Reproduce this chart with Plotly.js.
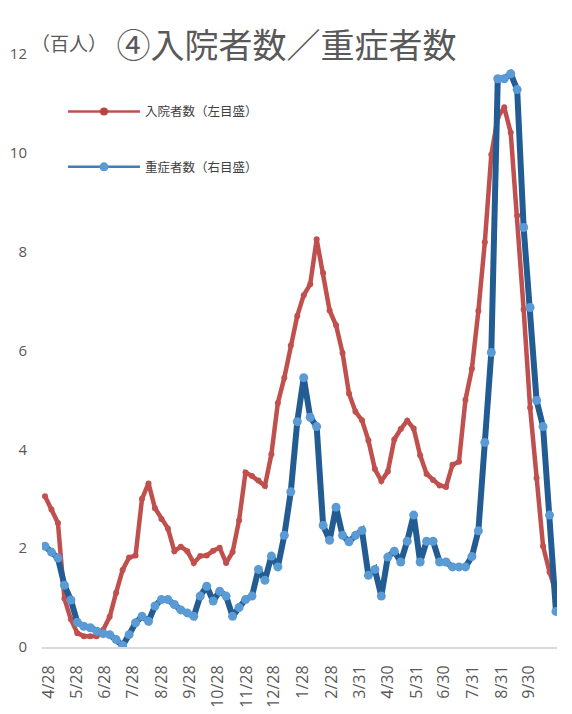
<!DOCTYPE html>
<html>
<head>
<meta charset="utf-8">
<script src="https://cdn.plot.ly/plotly-3.0.1.min.js"></script>
<style>
  html, body { margin: 0; padding: 0; background: #ffffff; }
  #chart { width: 572px; height: 714px; }
</style>
</head>
<body>
<div id="chart"></div>
<script>
// ---- data (weekly points, first week starting 2020-04-24) ----
const startDate = '2020-04-24';
const weekCount = 80;

// 入院者数 (百人, left axis)
const hospitalized = [
  3.05, 2.78, 2.51, 0.98, 0.56, 0.28, 0.22, 0.22, 0.22, 0.35,
  0.61, 1.10, 1.56, 1.81, 1.85, 3.00, 3.31, 2.81, 2.59, 2.40,
  1.94, 2.03, 1.94, 1.70, 1.84, 1.85, 1.95, 2.01, 1.70, 1.92,
  2.56, 3.53, 3.46, 3.37, 3.26, 3.90, 4.94, 5.45, 6.10, 6.70,
  7.12, 7.34, 8.25, 7.57, 6.81, 6.51, 5.95, 5.13, 4.76, 4.59,
  4.18, 3.60, 3.36, 3.55, 4.20, 4.41, 4.58, 4.42, 3.88, 3.50,
  3.38, 3.27, 3.24, 3.69, 3.75, 5.00, 5.63, 6.80, 8.19, 9.96,
  10.72, 10.92, 10.41, 8.73, 6.83, 4.84, 3.42, 2.04, 1.52, 1.10
];

// 重症者数 (right axis, drawn on the same visual scale)
const severe = [
  2.04, 1.92, 1.80, 1.25, 0.95, 0.50, 0.42, 0.39, 0.32, 0.27,
  0.25, 0.15, 0.03, 0.25, 0.49, 0.62, 0.52, 0.83, 0.96, 0.96,
  0.86, 0.75, 0.69, 0.62, 1.03, 1.23, 0.93, 1.13, 1.03, 0.62,
  0.80, 0.96, 1.03, 1.57, 1.35, 1.84, 1.62, 2.26, 3.14, 4.56,
  5.45, 4.65, 4.46, 2.46, 2.16, 2.83, 2.26, 2.13, 2.26, 2.36,
  1.45, 1.57, 1.03, 1.82, 1.94, 1.72, 2.14, 2.67, 1.72, 2.14,
  2.14, 1.72, 1.72, 1.62, 1.62, 1.62, 1.83, 2.35, 4.14, 5.96,
  11.50, 11.50, 11.60, 11.28, 8.49, 6.87, 4.99, 4.46, 2.67, 0.72
];

// x-axis tick labels
const tickDates = [
  '2020-04-28', '2020-05-28', '2020-06-28', '2020-07-28', '2020-08-28', '2020-09-28',
  '2020-10-28', '2020-11-28', '2020-12-28', '2021-01-28', '2021-02-28', '2021-03-31',
  '2021-04-30', '2021-05-31', '2021-06-30', '2021-07-31', '2021-08-31', '2021-09-30'
];
const tickLabels = [
  '4/28', '5/28', '6/28', '7/28', '8/28', '9/28', '10/28', '11/28', '12/28',
  '1/28', '2/28', '3/31', '4/30', '5/31', '6/30', '7/31', '8/31', '9/30'
];

const seriesNames = ['入院者数（左目盛）', '重症者数（右目盛）'];
const titleText = '④入院者数／重症者数';
const unitText = '（百人）';

// ---- build ----
const DAY = 86400000;
function iso(ms) { return new Date(ms).toISOString().slice(0, 10); }
const t0 = Date.parse(startDate + 'T00:00:00Z');
const dates = [];
for (let i = 0; i < weekCount; i++) dates.push(iso(t0 + i * 7 * DAY));
const tLast = t0 + (weekCount - 1) * 7 * DAY;
const xRange = [new Date(t0 - 3.25 * DAY).toISOString(), new Date(tLast + 1.1 * DAY).toISOString()];

const RED = '#C0504D';
const BLUE_LINE = '#225C92';
const BLUE_MARK = '#5B9BD5';
const TXT = '#595959';

const traces = [
  {
    x: dates, y: hospitalized, type: 'scatter', mode: 'lines+markers',
    line: { color: RED, width: 4.5 },
    marker: { color: RED, size: 6 },
    showlegend: false, yaxis: 'y', hoverinfo: 'skip'
  },
  {
    x: dates, y: severe, type: 'scatter', mode: 'lines+markers',
    line: { color: BLUE_LINE, width: 6 },
    marker: { color: BLUE_MARK, size: 9 },
    showlegend: false, yaxis: 'y2', hoverinfo: 'skip'
  },
  // legend entries (thin lines as in the reference legend)
  {
    x: [null], y: [null], type: 'scatter', mode: 'lines+markers', name: seriesNames[0],
    line: { color: RED, width: 2.5 }, marker: { color: '#B8433F', size: 8 },
    legendgroup: 'a'
  },
  {
    x: [null], y: [null], type: 'scatter', mode: 'lines+markers', name: seriesNames[1],
    line: { color: '#3F7DBB', width: 2.5 }, marker: { color: BLUE_MARK, size: 9 },
    legendgroup: 'b'
  }
];

const layout = {
  width: 572, height: 714,
  margin: { l: 42, r: 15, t: 54, b: 66.5, pad: 0 },
  paper_bgcolor: '#ffffff', plot_bgcolor: '#ffffff',
  font: { family: '"Noto Sans CJK JP", "Noto Sans", sans-serif', color: TXT },
  title: {
    text: titleText,
    font: { family: '"Noto Sans CJK JP", sans-serif', size: 34, color: TXT },
    x: 286.5 / 572, xanchor: 'center', xref: 'container',
    y: 1 - 46 / 714, yanchor: 'middle', yref: 'container'
  },
  annotations: [{
    text: unitText, xref: 'paper', yref: 'paper',
    x: (69 - 42) / 515, y: (647.5 - 42) / 593.5,
    xanchor: 'center', yanchor: 'middle', showarrow: false,
    font: { family: '"Noto Sans CJK JP", sans-serif', size: 19, color: TXT }
  }],
  xaxis: {
    type: 'date', range: xRange,
    tickmode: 'array', tickvals: tickDates, ticktext: tickLabels,
    tickangle: -90, ticks: '', ticklabelstandoff: 10,
    tickfont: { family: '"Open Sans", "Noto Sans", sans-serif', size: 16, color: TXT },
    showgrid: false, zeroline: false,
    showline: true, linecolor: '#D9D9D9', linewidth: 2,
    fixedrange: true
  },
  yaxis: {
    range: [0, 12], dtick: 2, tick0: 0, ticks: '', ticklabelstandoff: 14,
    tickfont: { family: '"Open Sans", "Noto Sans", sans-serif', size: 15, color: TXT },
    showgrid: false, zeroline: false, showline: false, fixedrange: true
  },
  yaxis2: {
    range: [0, 12], overlaying: 'y', side: 'right', visible: false, fixedrange: true
  },
  showlegend: true,
  legend: {
    x: (63 - 42) / 515, y: (647.5 - 97) / 593.5, xanchor: 'left', yanchor: 'top',
    bgcolor: 'rgba(0,0,0,0)', borderwidth: 0,
    font: { family: '"Noto Sans CJK JP", sans-serif', size: 12.5, color: '#404040' },
    itemwidth: 72, traceorder: 'grouped', tracegroupgap: 36
  }
};

Plotly.newPlot('chart', traces, layout, { displayModeBar: false, staticPlot: true });
</script>
</body>
</html>
